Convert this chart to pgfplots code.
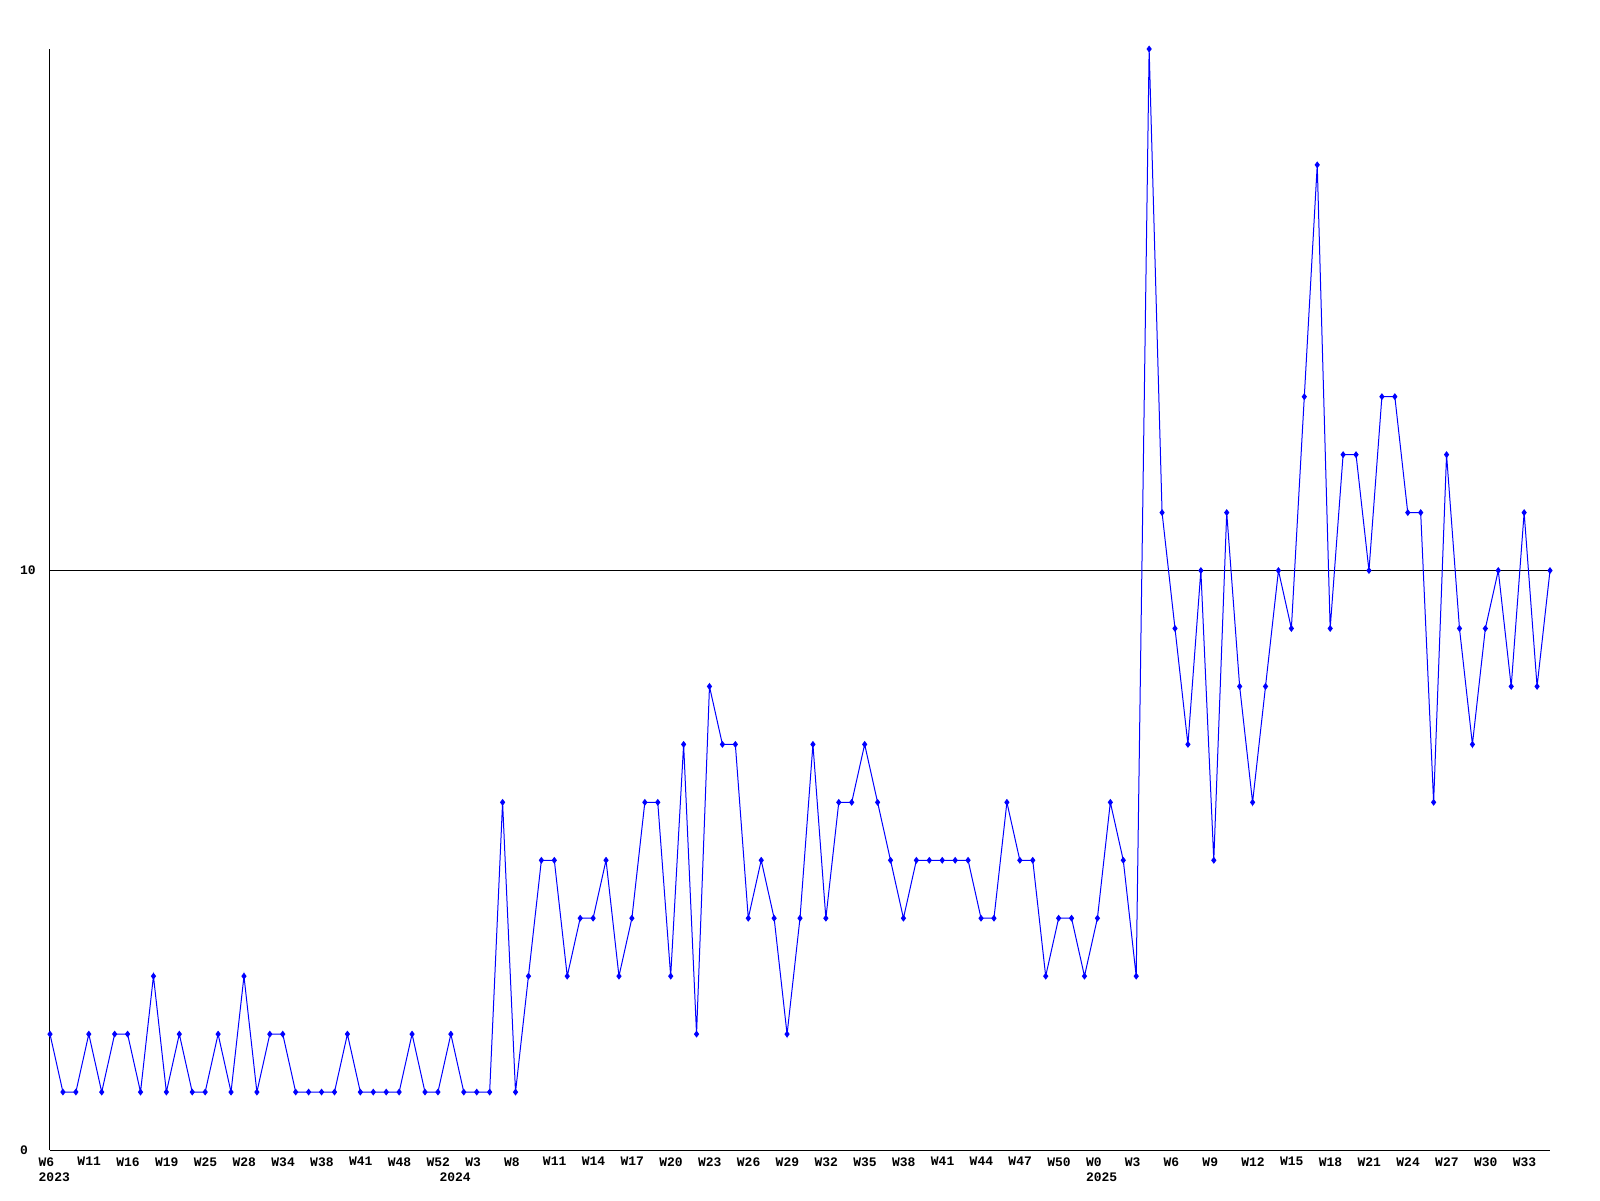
\documentclass[border=0pt]{standalone}
\usepackage{fontspec}
\setmainfont{Liberation Sans}
\setmonofont{Liberation Mono}
\usepackage{pgfplots}
\pgfplotsset{compat=1.18}
\usepackage{pgfplotstable}

% weekly counts, one row per week (index 0 = 2023 W6)
\pgfplotstableread{
x y
0 2
1 1
2 1
3 2
4 1
5 2
6 2
7 1
8 3
9 1
10 2
11 1
12 1
13 2
14 1
15 3
16 1
17 2
18 2
19 1
20 1
21 1
22 1
23 2
24 1
25 1
26 1
27 1
28 2
29 1
30 1
31 2
32 1
33 1
34 1
35 6
36 1
37 3
38 5
39 5
40 3
41 4
42 4
43 5
44 3
45 4
46 6
47 6
48 3
49 7
50 2
51 8
52 7
53 7
54 4
55 5
56 4
57 2
58 4
59 7
60 4
61 6
62 6
63 7
64 6
65 5
66 4
67 5
68 5
69 5
70 5
71 5
72 4
73 4
74 6
75 5
76 5
77 3
78 4
79 4
80 3
81 4
82 6
83 5
84 3
85 19
86 11
87 9
88 7
89 10
90 5
91 11
92 8
93 6
94 8
95 10
96 9
97 13
98 17
99 9
100 12
101 12
102 10
103 13
104 13
105 11
106 11
107 6
108 12
109 9
110 7
111 9
112 10
113 8
114 11
115 8
116 10
}\weekly

\begin{document}
\begin{tikzpicture}
\useasboundingbox (-15pt,-15pt) rectangle (465pt,345pt);
\begin{axis}[
    at={(0,0)}, anchor=south west,
    scale only axis,
    width=450pt, height=330.3pt,
    xmin=0, xmax=116, ymin=0, ymax=19,
    clip=false,
    axis x line*=bottom, axis y line*=left,
    axis line style={black, line width=0.3pt},
    major tick length=0pt,
    ytick={0,10},
    ymajorgrids,
    major grid style={black, line width=0.3pt},
    xtick={0,3,...,114},
    xticklabels={W6,W11,W16,W19,W25,W28,W34,W38,W41,W48,W52,W3,W8,W11,W14,
      W17,W20,W23,W26,W29,W32,W35,W38,W41,W44,W47,W50,W0,W3,W6,W9,W12,W15,
      W18,W21,W24,W27,W30,W33},
    extra x ticks={0,31,81},
    extra x tick labels={2023,2024,2025},
    extra x tick style={xticklabel style={yshift=-4.6pt}},
    every tick label/.append style={font=\fontsize{3.9}{4.5}\selectfont\ttfamily\bfseries},
    /pgf/number format/assume math mode=true,
    xticklabel style={anchor=north west, inner sep=0pt, xshift=-3.6pt, yshift=-2pt},
    yticklabel style={anchor=west, inner sep=0pt, xshift=-9.2pt},
]
\addplot[blue, line width=0.3pt, mark=diamond*, mark size=0.8pt,
    mark options={fill=blue}] table[x=x, y=y] {\weekly};
\end{axis}
\end{tikzpicture}
\end{document}
